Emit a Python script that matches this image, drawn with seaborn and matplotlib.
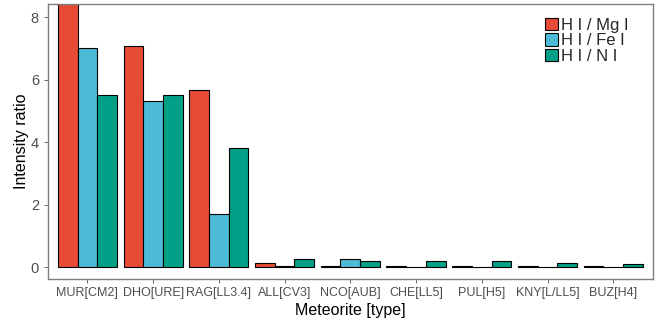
import matplotlib
matplotlib.use("Agg")
import matplotlib.pyplot as plt
import seaborn as sns
import pandas as pd

meteorites = ["MUR[CM2]", "DHO[URE]", "RAG[LL3.4]", "ALL[CV3]", "NCO[AUB]",
              "CHE[LL5]", "PUL[H5]", "KNY[L/LL5]", "BUZ[H4]"]
series = ["H I / Mg I", "H I / Fe I", "H I / N I"]
mg = [9.0, 7.07, 5.66, 0.12, 0.03, 0.05, 0.03, 0.04, 0.02]
fe = [7.0, 5.31, 1.70, 0.03, 0.26, 0.01, 0.005, 0.01, 0.01]
n_ = [5.5, 5.5, 3.81, 0.26, 0.18, 0.19, 0.19, 0.12, 0.10]
colors = ["#E64B35", "#4DBBD5", "#00A087"]

rows = []
for s, vals in zip(series, [mg, fe, n_]):
    for m, v in zip(meteorites, vals):
        rows.append({"Meteorite": m, "Series": s, "Value": v})
df = pd.DataFrame(rows)

sns.set_style("white")
plt.rcParams["font.family"] = ["Liberation Sans", "DejaVu Sans"]
fig = plt.figure(figsize=(6.66, 3.29), dpi=100)
ax = fig.add_axes([0.072, 0.152, 0.908, 0.836])
sns.barplot(data=df, x="Meteorite", y="Value", hue="Series", palette=colors,
            hue_order=series, order=meteorites, width=0.9, edgecolor="black",
            linewidth=0.8, ax=ax, saturation=1)
ax.set_ylim(-0.38, 8.42)
ax.set_xlim(-0.6, 8.6)
ax.set_yticks([0, 2, 4, 6, 8])
ax.set_xlabel("Meteorite [type]", fontsize=11.5, color="black", labelpad=3)
ax.set_ylabel("Intensity ratio", fontsize=11.5, color="black", labelpad=1)
ax.tick_params(axis="x", labelsize=9, colors="#4D4D4D", length=3, width=0.6, direction="out", bottom=True, pad=3)
ax.tick_params(axis="y", labelsize=10.5, colors="#4D4D4D", length=3, width=0.6, direction="out", left=True)
for sp in ax.spines.values():
    sp.set_color("#7F7F7F")
    sp.set_linewidth(1.0)
    sp.set_visible(True)
ax.legend(title=None, loc="upper right", frameon=False, fontsize=12,
          handlelength=0.8, handleheight=0.8, handletextpad=0.15,
          labelspacing=0.02, borderaxespad=0.5, bbox_to_anchor=(0.985, 1.005))
fig.savefig("out.png", dpi=100)
